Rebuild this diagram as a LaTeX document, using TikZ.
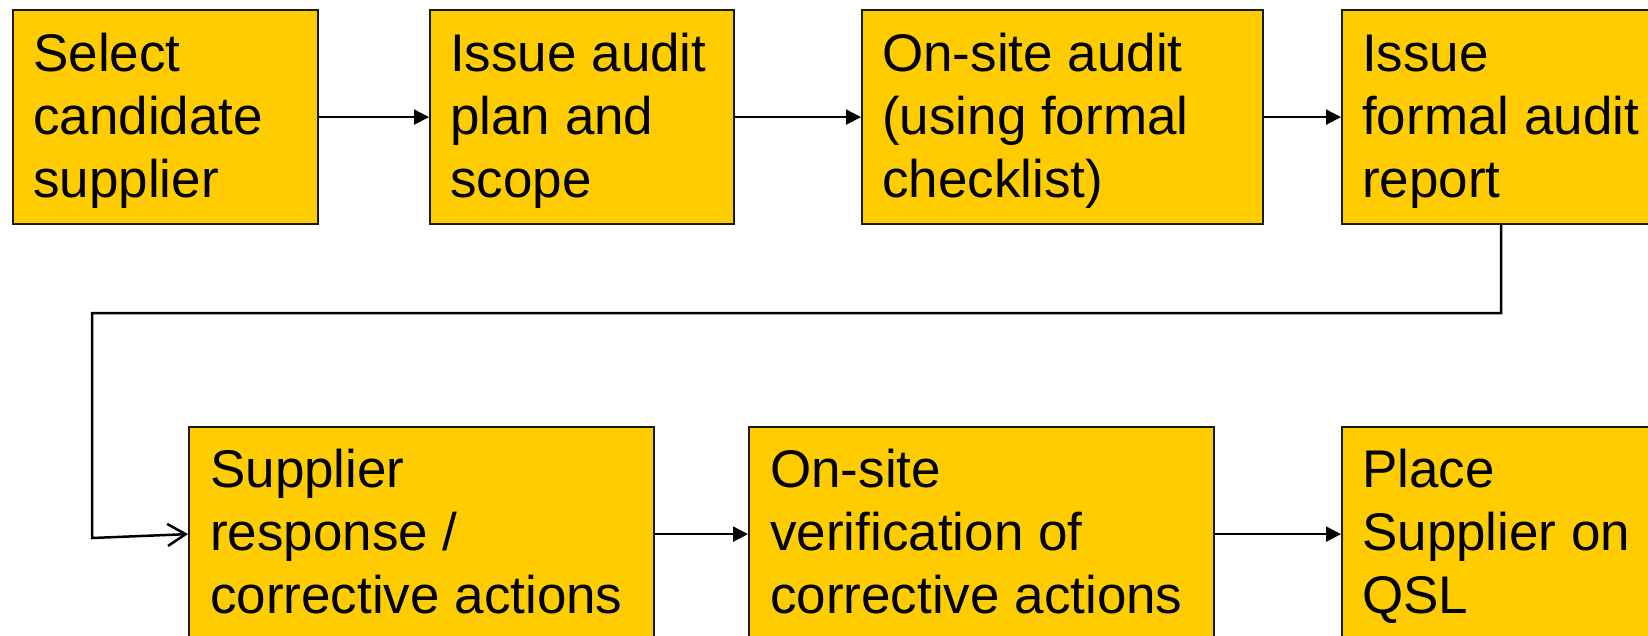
\documentclass[tikz,border=0pt]{standalone}
\usepackage{fontspec}
\setmainfont{Liberation Sans}
\usetikzlibrary{arrows.meta}
\definecolor{stepgold}{HTML}{FFCC00}
\definecolor{stepedge}{HTML}{1A1A1A}
\tikzset{
  x=1pt, y=-1pt,
  stepbox/.style={draw=stepedge, line width=2.2pt, fill=stepgold, rectangle,
    inner sep=0pt, anchor=north west, minimum height=214pt},
  steptext/.style={anchor=base west, inner sep=0pt,
    font=\fontsize{53}{63}\selectfont},
  flow/.style={line width=2.2pt, -{Triangle[length=15pt,width=15pt]}},
  feedback/.style={line width=2.5pt, line join=miter,
    -{Straight Barb[length=18pt,width=22pt,line width=2.5pt]}},
}
\newcommand{\steplines}[1]{\parbox[t]{600pt}{\raggedright #1}}
\begin{document}
\begin{tikzpicture}
\clip (0,0) rectangle (1648,635);
\fill[white] (0,0) rectangle (1648,635);

% top row
\node[stepbox, minimum width=305pt] (b1) at (12,9) {};
\node[stepbox, minimum width=304pt] (b2) at (429,9) {};
\node[stepbox, minimum width=401pt] (b3) at (861,9) {};
\node[stepbox, minimum width=340pt] (b4) at (1341,9) {};
% bottom row
\node[stepbox, minimum width=465pt] (b5) at (188,426) {};
\node[stepbox, minimum width=465pt] (b6) at (748,426) {};
\node[stepbox, minimum width=340pt] (b7) at (1341,426) {};

% labels
\node[steptext] (t1) at (33,71) {\steplines{Select\\candidate\\supplier}};
\node[steptext] (t2) at (450,71) {\steplines{Issue audit\\plan and\\scope}};
\node[steptext] (t3) at (882,71) {\steplines{On-site audit\\(using formal\\checklist)}};
\node[steptext] (t4) at (1362,71) {\steplines{Issue\\formal audit\\report}};
\node[steptext] (t5) at (210,487) {\steplines{Supplier\\response /\\corrective actions}};
\node[steptext] (t6) at (770,487) {\steplines{On-site\\verification of\\corrective actions}};
\node[steptext] (t7) at (1362,487) {\steplines{Place\\Supplier on\\QSL}};

% connectors
\draw[flow] (b1.east) -- (b2.west);
\draw[flow] (b2.east) -- (b3.west);
\draw[flow] (b3.east) -- (b4.west);
\coordinate (r1) at (1501,313);
\coordinate (r2) at (92,313);
\coordinate (r3) at (92,538);
\draw[feedback] (b4.south -| r1) -- (r1) -- (r2) -- (r3) -- (b5.west);
\draw[flow] (b5.east) -- (b6.west);
\draw[flow] (b6.east) -- (b7.west);
\end{tikzpicture}
\end{document}
